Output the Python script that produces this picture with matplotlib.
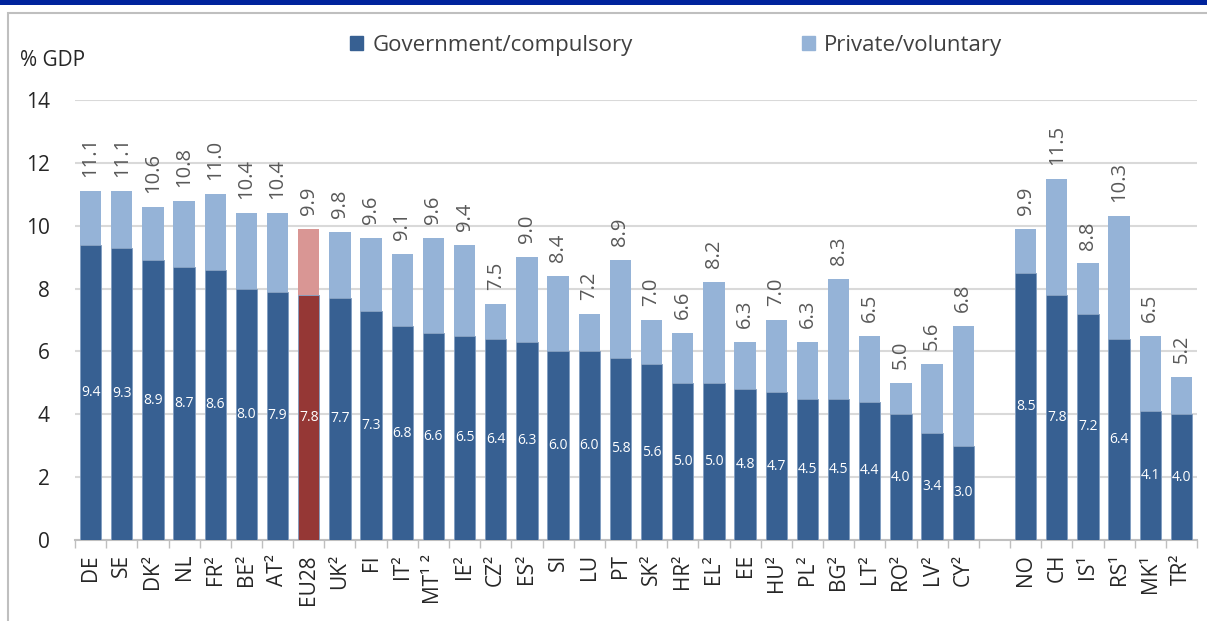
import numpy as np
import matplotlib.pyplot as plt
from matplotlib.patches import Rectangle, Patch

plt.rcParams['font.family'] = ['Open Sans', 'DejaVu Sans']

# country codes, government share and total spending (% GDP)
countries = ["DE", "SE", "DK²", "NL", "FR²", "BE²", "AT²", "EU28", "UK²", "FI",
             "IT²", "MT¹ ²", "IE²", "CZ²", "ES²", "SI", "LU", "PT", "SK²", "HR²",
             "EL²", "EE", "HU²", "PL²", "BG²", "LT²", "RO²", "LV²", "CY²",
             "NO", "CH", "IS¹", "RS¹", "MK¹", "TR²"]
government = [9.4, 9.3, 8.9, 8.7, 8.6, 8.0, 7.9, 7.8, 7.7, 7.3,
              6.8, 6.6, 6.5, 6.4, 6.3, 6.0, 6.0, 5.8, 5.6, 5.0,
              5.0, 4.8, 4.7, 4.5, 4.5, 4.4, 4.0, 3.4, 3.0,
              8.5, 7.8, 7.2, 6.4, 4.1, 4.0]
total = [11.1, 11.1, 10.6, 10.8, 11.0, 10.4, 10.4, 9.9, 9.8, 9.6,
         9.1, 9.6, 9.4, 7.5, 9.0, 8.4, 7.2, 8.9, 7.0, 6.6,
         8.2, 6.3, 7.0, 6.3, 8.3, 6.5, 5.0, 5.6, 6.8,
         9.9, 11.5, 8.8, 10.3, 6.5, 5.2]
n_eu = 29  # countries before the gap (EU members + EU28)

gov = np.array(government)
tot = np.array(total)
priv = tot - gov

# positions: one empty slot between the EU block and the others
x = np.array([i if i < n_eu else i + 1 for i in range(len(countries))], dtype=float)

gov_colors = ["#376092"] * len(countries)
priv_colors = ["#95B3D7"] * len(countries)
eu_idx = countries.index("EU28")
gov_colors[eu_idx] = "#953735"
priv_colors[eu_idx] = "#D99694"

fig = plt.figure(figsize=(12.07, 6.21), dpi=100)

# header strip and outer frame
fig.patches.append(Rectangle((0, 1 - 5 / 621), 1, 5 / 621, transform=fig.transFigure,
                             facecolor="#00239C", edgecolor="none"))
fig.patches.append(Rectangle((8 / 1207, -0.05), 1.2, 1 - 13 / 621 + 0.05, transform=fig.transFigure,
                             facecolor="none", edgecolor="#BFBFBF", linewidth=1.5))

ax = fig.add_axes([75 / 1207, 1 - 540 / 621, 1122 / 1207, 440 / 621])

w = 0.68
ax.bar(x, gov, width=w, color=gov_colors, edgecolor="#7F9CC0", linewidth=0.6, zorder=3)
ax.bar(x, priv, bottom=gov, width=w, color=priv_colors, edgecolor="none", zorder=3)

for xi, g, t in zip(x, gov, tot):
    ax.text(xi, g / 2, f"{g:.1f}", ha="center", va="center", color="white",
            fontsize=10, zorder=4)
    ax.annotate(f"{t:.1f}", (xi, t), xytext=(0, 10), textcoords="offset points",
                ha="center", va="bottom", rotation=90, color="#595959",
                fontsize=14.5, zorder=4)

ax.set_xlim(-0.5, x[-1] + 0.5)
ax.set_ylim(0, 14)
ax.set_yticks(range(0, 15, 2))
ax.tick_params(axis="y", length=0, labelsize=15, colors="#262626", pad=18)
ax.set_xticks(x)
ax.set_xticklabels(countries, rotation=90, fontsize=15, color="#262626")
ax.tick_params(axis="x", length=0, pad=10)
ax.set_xticks(np.arange(-0.5, x[-1] + 1, 1.0), minor=True)
ax.tick_params(axis="x", which="minor", length=6, color="#BFBFBF", width=1)

ax.grid(axis="y", color="#D9D9D9", linewidth=1.5, zorder=0)
for s in ["top", "right", "left"]:
    ax.spines[s].set_visible(False)
ax.spines["bottom"].set_color("#BFBFBF")
ax.spines["bottom"].set_linewidth(1.5)

fig.text(20 / 1207, 1 - 60 / 621, "% GDP", fontsize=15, va="center", ha="left",
         color="#262626")

handles = [Patch(color="#376092", label="Government/compulsory"),
           Patch(color="#95B3D7", label="Private/voluntary")]
fig.legend(handles=handles, loc="center", bbox_to_anchor=(676 / 1207, 1 - 45 / 621), ncol=2,
           frameon=False, fontsize=16, handlelength=0.6, handleheight=0.6,
           handletextpad=0.4, columnspacing=7.6, labelcolor="#404040")

plt.savefig("out.png", dpi=100)
